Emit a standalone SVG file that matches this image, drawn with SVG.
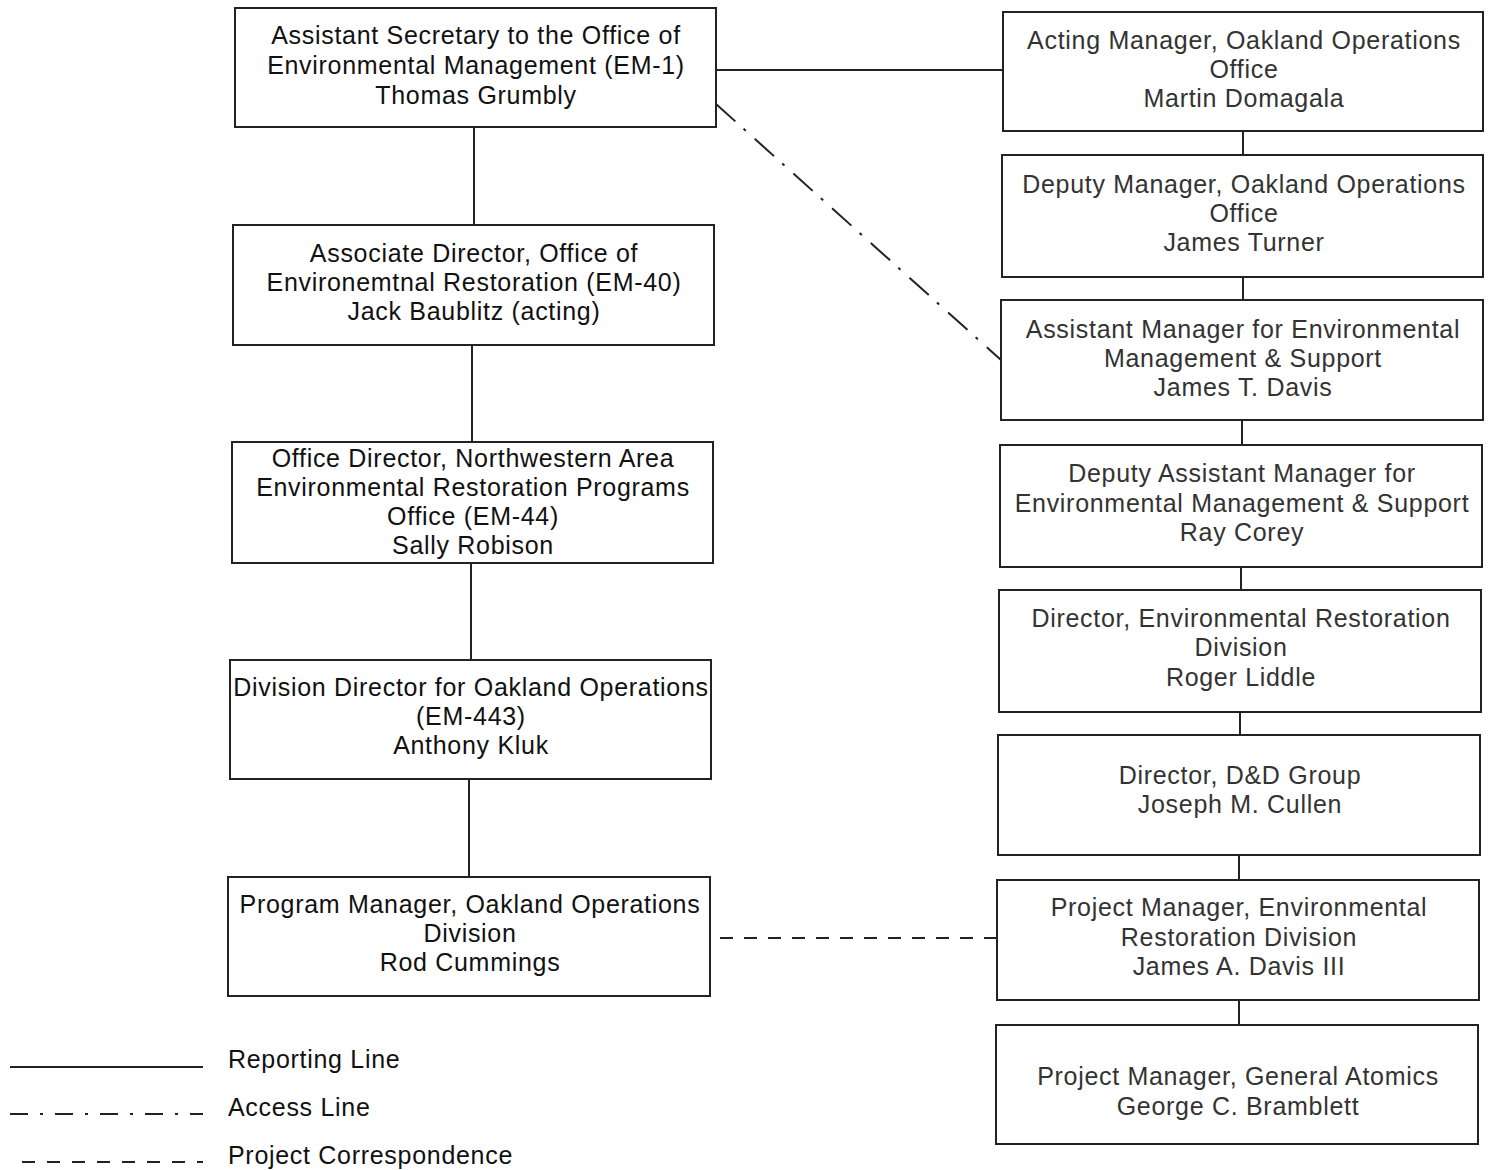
<svg xmlns="http://www.w3.org/2000/svg" width="1488" height="1170" viewBox="0 0 1488 1170">
<style>
.box{fill:#fff;stroke:#222;stroke-width:2}
.t{font-family:"Liberation Sans",Arial,sans-serif;font-size:25px;letter-spacing:0.7px;text-anchor:middle;fill:#111}
.r .t{fill:#333}
.lg{font-family:"Liberation Sans",Arial,sans-serif;font-size:25px;letter-spacing:0.7px;fill:#111}
.rep{stroke:#222;stroke-width:2;fill:none}
.acc{stroke:#222;stroke-width:2;fill:none;stroke-dasharray:26 11 3 12}
.prj{stroke:#222;stroke-width:2;fill:none;stroke-dasharray:13 11}
</style>
<rect width="1488" height="1170" fill="#fff"/>
<g id="connectors">
<line class="rep" x1="474" y1="127" x2="474" y2="225"/>
<line class="rep" x1="472" y1="345" x2="472" y2="442"/>
<line class="rep" x1="471" y1="563" x2="471" y2="660"/>
<line class="rep" x1="469" y1="779" x2="469" y2="877"/>
<line class="rep" x1="716" y1="70" x2="1003" y2="70"/>
<line class="rep" x1="1243" y1="131" x2="1243" y2="155"/>
<line class="rep" x1="1243" y1="277" x2="1243" y2="300"/>
<line class="rep" x1="1242" y1="420" x2="1242" y2="445"/>
<line class="rep" x1="1241" y1="567" x2="1241" y2="590"/>
<line class="rep" x1="1240" y1="712" x2="1240" y2="735"/>
<line class="rep" x1="1239" y1="855" x2="1239" y2="880"/>
<line class="rep" x1="1239" y1="1000" x2="1239" y2="1025"/>
<line class="acc" x1="716" y1="104" x2="1001" y2="360"/>
<line class="prj" x1="720" y1="938" x2="997" y2="938"/>
</g>
<g id="n1"><rect class="box" x="235" y="8" width="481" height="119"/>
<text class="t" x="476" y="44">Assistant Secretary to the Office of</text>
<text class="t" x="476" y="74">Environmental Management (EM-1)</text>
<text class="t" x="476" y="104">Thomas Grumbly</text></g>
<g id="n2"><rect class="box" x="233" y="225" width="481" height="120"/>
<text class="t" x="474" y="262">Associate Director, Office of</text>
<text class="t" x="474" y="291">Environemtnal Restoration (EM-40)</text>
<text class="t" x="474" y="320">Jack Baublitz (acting)</text></g>
<g id="n3"><rect class="box" x="232" y="442" width="481" height="121"/>
<text class="t" x="473" y="467">Office Director, Northwestern Area</text>
<text class="t" x="473" y="496">Environmental Restoration Programs</text>
<text class="t" x="473" y="525">Office (EM-44)</text>
<text class="t" x="473" y="554">Sally Robison</text></g>
<g id="n4"><rect class="box" x="230" y="660" width="481" height="119"/>
<text class="t" x="471" y="696">Division Director for Oakland Operations</text>
<text class="t" x="471" y="725">(EM-443)</text>
<text class="t" x="471" y="754">Anthony Kluk</text></g>
<g id="n5"><rect class="box" x="228" y="877" width="482" height="119"/>
<text class="t" x="470" y="913">Program Manager, Oakland Operations</text>
<text class="t" x="470" y="942">Division</text>
<text class="t" x="470" y="971">Rod Cummings</text></g>
<g class="r">
<g id="r1"><rect class="box" x="1003" y="12" width="480" height="119"/>
<text class="t" x="1244" y="49">Acting Manager, Oakland Operations</text>
<text class="t" x="1244" y="78">Office</text>
<text class="t" x="1244" y="107">Martin Domagala</text></g>
<g id="r2"><rect class="box" x="1002" y="155" width="481" height="122"/>
<text class="t" x="1244" y="193">Deputy Manager, Oakland Operations</text>
<text class="t" x="1244" y="222">Office</text>
<text class="t" x="1244" y="251">James Turner</text></g>
<g id="r3"><rect class="box" x="1001" y="300" width="482" height="120"/>
<text class="t" x="1243" y="338">Assistant Manager for Environmental</text>
<text class="t" x="1243" y="367">Management &amp; Support</text>
<text class="t" x="1243" y="396">James T. Davis</text></g>
<g id="r4"><rect class="box" x="1000" y="445" width="482" height="122"/>
<text class="t" x="1242" y="482">Deputy Assistant Manager for</text>
<text class="t" x="1242" y="512">Environmental Management &amp; Support</text>
<text class="t" x="1242" y="541">Ray Corey</text></g>
<g id="r5"><rect class="box" x="999" y="590" width="482" height="122"/>
<text class="t" x="1241" y="627">Director, Environmental Restoration</text>
<text class="t" x="1241" y="656">Division</text>
<text class="t" x="1241" y="686">Roger Liddle</text></g>
<g id="r6"><rect class="box" x="998" y="735" width="482" height="120"/>
<text class="t" x="1240" y="784">Director, D&amp;D Group</text>
<text class="t" x="1240" y="813">Joseph M. Cullen</text></g>
<g id="r7"><rect class="box" x="997" y="880" width="482" height="120"/>
<text class="t" x="1239" y="916">Project Manager, Environmental</text>
<text class="t" x="1239" y="946">Restoration Division</text>
<text class="t" x="1239" y="975">James A. Davis III</text></g>
<g id="r8"><rect class="box" x="996" y="1025" width="482" height="119"/>
<text class="t" x="1238" y="1085">Project Manager, General Atomics</text>
<text class="t" x="1238" y="1115">George C. Bramblett</text></g>
</g>
<g id="legend">
<line class="rep" x1="10" y1="1067" x2="203" y2="1067"/>
<line class="acc" x1="10" y1="1114" x2="203" y2="1114" style="stroke-dasharray:18 12 3 12"/>
<line class="prj" x1="22" y1="1162" x2="203" y2="1162" style="stroke-dasharray:13 12"/>
<text class="lg" x="228" y="1068">Reporting Line</text>
<text class="lg" x="228" y="1116">Access Line</text>
<text class="lg" x="228" y="1164">Project Correspondence</text>
</g>
</svg>
